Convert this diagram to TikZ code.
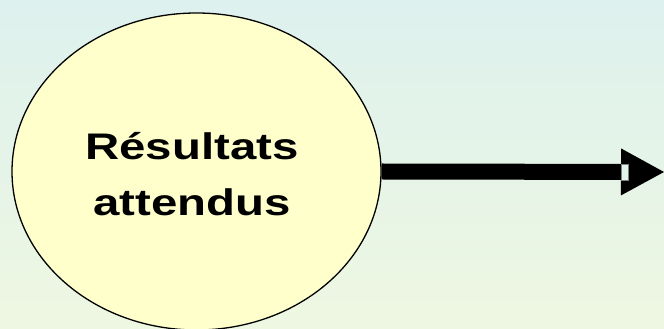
\documentclass[tikz,border=0pt]{standalone}
\usepackage{fontspec}
\setmainfont{Liberation Sans}[FakeStretch=1.28]
\usepackage{xcolor}
\usetikzlibrary{shapes,arrows,positioning,calc,arrows.meta}
\definecolor{bgtop}{RGB}{221,241,238}
\definecolor{bgbottom}{RGB}{238,247,225}
\definecolor{bubble}{RGB}{255,255,204}
\definecolor{notchfill}{RGB}{226,243,233}

\begin{document}
\begin{tikzpicture}[x=1pt,y=1pt]
    % Background
    \useasboundingbox (0,0) rectangle (664,329);
    \shade[top color=bgtop, bottom color=bgbottom] (0,0) rectangle (664,329);

    % Ellipse
    \node[ellipse, draw, line width=1.3pt, fill=bubble, inner sep=0pt,
          minimum width=369pt, minimum height=317pt] (res) at (196.5,157.5) {};
    \node[align=center, font=\bfseries\fontsize{37}{56}\selectfont] (restext) at (192,155) {Résultats\\attendus};

    % Arrow
    \coordinate (tip) at (664,157);
    \draw[line width=16pt, -{Triangle[length=43pt,width=47pt,line width=0pt]}] (res.east) -- (tip);
    \node[draw=gray, line width=0.6pt, fill=notchfill, inner sep=0pt,
          minimum width=7pt, minimum height=16pt] (notch) at (624.5,157) {};
\end{tikzpicture}
\end{document}
